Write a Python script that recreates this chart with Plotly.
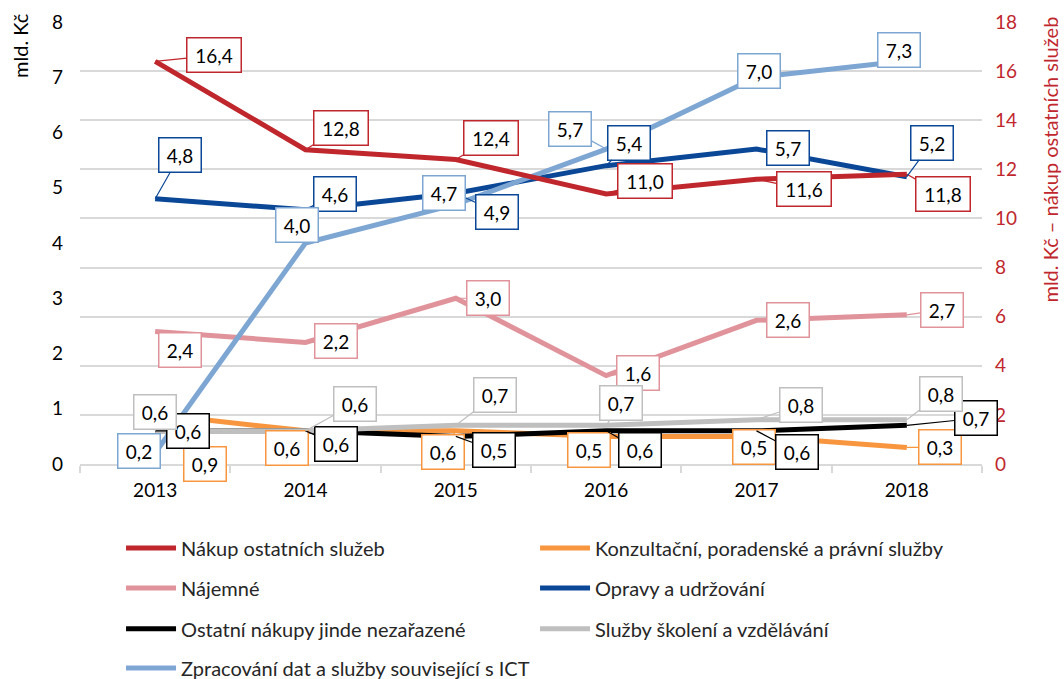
import plotly.graph_objects as go

years = ["2013", "2014", "2015", "2016", "2017", "2018"]

# series values (mld. Kč)
nakup_ostatnich = [16.4, 12.8, 12.4, 11.0, 11.6, 11.8]      # right axis
konzultacni = [0.9, 0.6, 0.6, 0.5, 0.5, 0.3]
najemne = [2.4, 2.2, 3.0, 1.6, 2.6, 2.7]
opravy = [4.8, 4.6, 4.9, 5.4, 5.7, 5.2]
ostatni_nakupy = [0.6, 0.6, 0.5, 0.6, 0.6, 0.7]
skoleni = [0.6, 0.6, 0.7, 0.7, 0.8, 0.8]
ict = [0.2, 4.0, 4.7, 5.7, 7.0, 7.3]

left_ticks = [0, 1, 2, 3, 4, 5, 6, 7, 8]
right_ticks = [0, 2, 4, 6, 8, 10, 12, 14, 16, 18]

FONT = "Lato"
RED = "#C0272D"
ORANGE = "#F7963F"
PINK = "#E0939A"
DBLUE = "#0B4797"
BLACK = "#000000"
GRAY = "#BFBFBF"
LBLUE = "#7EA6D3"

# name, values, colour, y-axis, legend row, callout offsets (px) per year
series = [
    ("Nákup ostatních služeb", nakup_ostatnich, RED, "y2", "legend",
     [(59, -6), (35, -22), (35, -22), (39, -13), (47, 10), (36, 20)]),
    ("Konzultační, poradenské a právní služby", konzultacni, ORANGE, "y", "legend",
     [(50, 50), (-19, 17), (-13, 21), (-17, 14), (-3, 11), (33, 0)]),
    ("Nájemné", najemne, PINK, "y", "legend2",
     [(25, 19), (30, -1), (32, 0), (32, -3), (31, 0), (35, -5)]),
    ("Opravy a udržování", opravy, DBLUE, "y", "legend2",
     [(25, -44), (29, -16), (41, 19), (23, -23), (31, -1), (25, -34)]),
    ("Ostatní nákupy jinde nezařazené", ostatni_nakupy, BLACK, "y", "legend3",
     [(33, 0), (30, 13), (38, 14), (34, 19), (40, 21), (69, -7)]),
    ("Služby školení a vzdělávání", skoleni, GRAY, "y", "legend3",
     [(0, -19), (49, -27), (39, -30), (15, -22), (44, -15), (34, -26)]),
    ("Zpracování dat a služby související s ICT", ict, LBLUE, "y", "legend4",
     [(-16, -2), (-9, -18), (-12, -11), (-36, -20), (2, -6), (-8, -11)]),
]

fig = go.Figure()
annotations = []

for name, vals, color, yax, leg, offs in series:
    fig.add_trace(go.Scatter(
        x=years, y=vals, name=name, mode="lines",
        line=dict(color=color, width=5),
        yaxis=yax, legend=leg, hoverinfo="skip",
    ))

# value callouts: x is the category index on the category axis
for name, vals, color, yax, leg, offs in series:
    for i, (v, (dx, dy)) in enumerate(zip(vals, offs)):
        txt = f"{v:.1f}".replace(".", ",")
        annotations.append(dict(
            x=i, y=v, xref="x", yref=yax,
            text=txt, showarrow=True, arrowhead=0, arrowwidth=1.2,
            arrowcolor=color, ax=dx, ay=dy, standoff=0,
            bgcolor="white", bordercolor=color, borderwidth=1.5,
            borderpad=4, width=45 if len(txt) > 3 else 33, height=25,
            font=dict(family=FONT, size=19, color="#000000"),
        ))

# axis titles
annotations.append(dict(
    text="mld. Kč", xref="paper", yref="paper", x=-0.0665, y=0.946,
    xanchor="center", yanchor="middle",
    showarrow=False, textangle=-90, font=dict(family=FONT, size=20, color="#000000"),
))
annotations.append(dict(
    text="mld. Kč – nákup ostatních služeb", xref="paper", yref="paper",
    x=1.075, y=0.688, xanchor="center", yanchor="middle",
    showarrow=False, textangle=-90,
    font=dict(family=FONT, size=20, color=RED),
))

leg_common = dict(
    orientation="h", xanchor="left", yanchor="middle", x=0.0455,
    font=dict(family=FONT, size=20, color="#262626"),
    entrywidth=349, entrywidthmode="pixels", itemwidth=50,
    bgcolor="rgba(0,0,0,0)",
)

fig.update_layout(
    width=1064, height=679,
    margin=dict(l=80, r=82, t=22, b=215, autoexpand=False),
    paper_bgcolor="white", plot_bgcolor="white",
    font=dict(family=FONT, size=19, color="#000000"),
    showlegend=True,
    annotations=annotations,
    xaxis=dict(
        type="category", range=[-0.5, 5.5], tickson="boundaries",
        ticks="outside", ticklen=7, tickcolor="#D9D9D9", tickwidth=1.5,
        showline=True, linecolor="#D9D9D9", linewidth=1.5,
        showgrid=False, ticklabelstandoff=8,
        tickfont=dict(family=FONT, size=19, color="#000000"),
    ),
    yaxis=dict(
        range=[0, 8], tickvals=left_ticks, showgrid=False, zeroline=False,
        showline=False, ticks="", ticklabelstandoff=16,
        tickfont=dict(family=FONT, size=19, color="#000000"),
    ),
    yaxis2=dict(
        range=[0, 18], tickvals=right_ticks, overlaying="y", side="right",
        showgrid=True, gridcolor="#D9D9D9", gridwidth=1.5, zeroline=False,
        showline=False, ticks="", ticklabelstandoff=12,
        tickfont=dict(family=FONT, size=19, color=RED),
    ),
    legend=dict(leg_common, y=-0.19),
    legend2=dict(leg_common, y=-0.2805),
    legend3=dict(leg_common, y=-0.373),
    legend4=dict(leg_common, y=-0.4615),
)

fig.write_html("out.html")
